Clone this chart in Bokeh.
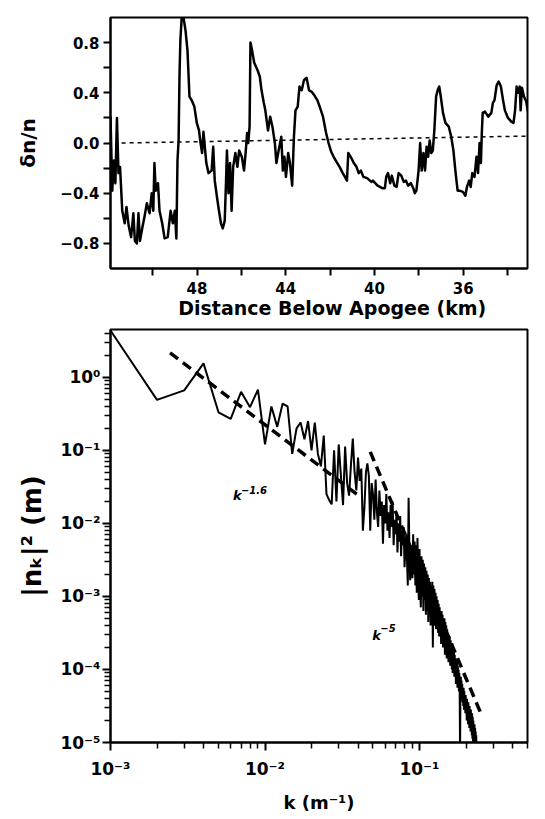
import numpy as np
from bokeh.plotting import figure
from bokeh.layouts import column
from bokeh.models import Range1d, FixedTicker, CustomJSTickFormatter
from bokeh.core.properties import value
from bokeh.embed import file_html
from bokeh.resources import INLINE

FONT = "DejaVu Sans"

# ---------------- upper panel: relative density fluctuation ----------------
dist_km = [
    51.90, 51.82, 51.75, 51.68, 51.61, 51.54, 51.47, 51.37, 51.26, 51.18,
    51.08, 50.97, 50.87, 50.80, 50.71, 50.64, 50.57, 50.47, 50.37, 50.26,
    50.14, 50.04, 49.97, 49.92, 49.86, 49.76, 49.69, 49.57, 49.46, 49.32,
    49.19, 49.09, 49.00, 48.93, 48.88, 48.83, 48.79, 48.75, 48.69, 48.61,
    48.52, 48.43, 48.34, 48.24, 48.12, 48.01, 47.91, 47.84, 47.77, 47.71,
    47.58, 47.48, 47.34, 47.27, 47.20, 47.10, 47.01, 46.92, 46.84, 46.75,
    46.70, 46.65, 46.58, 46.51, 46.44, 46.37, 46.27, 46.18, 46.10, 45.98,
    45.88, 45.80, 45.74, 45.69, 45.63, 45.59, 45.52, 45.42, 45.27, 45.17,
    45.09, 44.99, 44.92, 44.80, 44.70, 44.60, 44.49, 44.42, 44.32, 44.20,
    44.13, 44.06, 43.99, 43.89, 43.81, 43.71, 43.63, 43.56, 43.46, 43.38,
    43.28, 43.18, 43.06, 42.95, 42.84, 42.71, 42.57, 42.47, 42.32, 42.18,
    42.07, 41.95, 41.84, 41.71, 41.57, 41.43, 41.33, 41.24, 41.18, 41.07,
    40.93, 40.81, 40.71, 40.61, 40.50, 40.33, 40.14, 40.07, 39.86, 39.65,
    39.53, 39.47, 39.39, 39.29, 39.22, 39.10, 39.00, 38.91, 38.79, 38.68,
    38.58, 38.48, 38.36, 38.25, 38.18, 38.11, 38.01, 37.94, 37.87, 37.79,
    37.72, 37.65, 37.58, 37.51, 37.44, 37.37, 37.30, 37.22, 37.15, 37.08,
    37.01, 36.91, 36.80, 36.65, 36.54, 36.44, 36.34, 36.25, 36.16, 36.01,
    35.90, 35.83, 35.73, 35.66, 35.59, 35.49, 35.40, 35.33, 35.26, 35.20,
    35.16, 35.12, 35.02, 34.87, 34.73, 34.66, 34.59, 34.49, 34.40, 34.30,
    34.20, 34.12, 33.98, 33.83, 33.73, 33.66, 33.59, 33.52, 33.45, 33.41,
    33.35, 33.26, 33.16, 33.09, 33.02,
]
dn_over_n = [
    0.21, -0.38, -0.14, -0.32, 0.20, -0.24, -0.19, -0.54, -0.64, -0.51,
    -0.66, -0.75, -0.56, -0.78, -0.80, -0.56, -0.78, -0.68, -0.59, -0.48,
    -0.56, -0.40, -0.54, -0.16, -0.38, -0.32, -0.54, -0.64, -0.76, -0.75,
    -0.54, -0.64, -0.54, -0.76, -0.14, 0.02, 0.53, 0.82, 1.00, 1.00,
    0.90, 0.74, 0.37, 0.34, 0.29, 0.16, 0.10, 0.00, -0.08, 0.09,
    -0.16, -0.24, -0.22, -0.03, -0.30, -0.43, -0.54, -0.64, -0.68, -0.62,
    -0.35, -0.06, -0.40, -0.16, -0.54, -0.19, -0.08, -0.19, -0.06, -0.11,
    -0.22, -0.06, 0.08, 0.00, 0.13, 0.80, 0.74, 0.64, 0.58, 0.53,
    0.42, 0.32, 0.26, 0.10, 0.21, 0.13, 0.00, -0.16, -0.06, 0.05,
    -0.22, -0.11, -0.27, -0.08, -0.16, -0.34, 0.05, 0.26, 0.29, 0.45,
    0.42, 0.50, 0.52, 0.42, 0.41, 0.38, 0.34, 0.29, 0.21, 0.08,
    0.00, -0.07, -0.11, -0.15, -0.19, -0.24, -0.27, -0.30, -0.08, -0.11,
    -0.16, -0.19, -0.24, -0.22, -0.27, -0.28, -0.31, -0.30, -0.34, -0.36,
    -0.36, -0.27, -0.24, -0.32, -0.26, -0.34, -0.35, -0.24, -0.26, -0.31,
    -0.30, -0.34, -0.32, -0.36, -0.40, -0.38, -0.22, 0.00, -0.22, -0.08,
    -0.22, -0.03, -0.11, 0.02, -0.08, -0.06, 0.10, 0.37, 0.42, 0.45,
    0.37, 0.24, 0.16, 0.13, 0.05, -0.06, -0.24, -0.38, -0.38, -0.39,
    -0.42, -0.35, -0.30, -0.35, -0.24, -0.27, -0.11, -0.24, 0.00, -0.16,
    0.08, 0.24, 0.25, 0.21, 0.24, 0.32, 0.34, 0.46, 0.49, 0.45,
    0.34, 0.26, 0.20, 0.17, 0.16, 0.26, 0.45, 0.40, 0.45, 0.26,
    0.44, 0.37, 0.33, 0.26, 0.18,
]
# reference (mean) level, drawn dotted across the record
ref_dist = [51.4, 33.1]
ref_level = [0.0, 0.055]

# ---------------- lower panel: wavenumber power spectrum ----------------
dk = 1e-3  # spectral bin width (m^-1); bin n sits at k = n * dk
spec_log10 = [
    0.64, -0.31, -0.18, 0.19, -0.48, -0.57, -0.20, -0.41, -0.17, -0.92,
    -0.40, -0.68, -0.36, -0.40, -1.05, -0.70, -0.62, -0.85, -0.60, -1.00,
    -0.62, -1.05, -1.22, -0.80, -1.60, -1.68, -1.74, -1.00, -1.70, -0.92,
    -1.35, -1.75, -0.95, -1.45, -1.62, -1.20, -0.84, -1.30, -1.55, -1.10,
    -1.42, -1.25, -2.10, -1.78, -1.30, -1.18, -1.35, -2.10, -1.45, -1.60,
    -1.95, -1.40, -1.85, -2.05, -1.55, -1.90, -1.70, -2.28, -1.75, -2.00,
    -1.60, -2.10, -1.85, -2.20, -1.75, -2.05, -1.70, -2.30, -1.95, -2.15,
    -1.85, -2.40, -2.00, -2.25, -1.90, -2.45, -2.10, -2.30, -2.05, -2.60,
    -2.37, -2.15, -2.50, -2.85, -1.65, -2.35, -2.78, -2.55, -2.30, -2.75,
    -2.15, -2.70, -2.25, -2.85, -2.30, -2.95, -2.20, -2.75, -3.05, -2.35,
    -2.90, -3.15, -2.45, -3.00, -2.50, -3.20, -2.55, -3.05, -2.60, -3.25,
    -2.65, -3.20, -2.70, -3.35, -2.75, -3.25, -2.80, -3.40, -2.85, -3.30,
    -2.80, -3.70, -2.85, -3.35, -2.90, -3.40, -2.95, -3.45, -3.00, -3.40,
    -3.05, -3.50, -3.10, -3.55, -3.15, -3.50, -3.20, -3.65, -3.20, -3.60,
    -3.25, -3.70, -3.30, -3.65, -3.30, -3.80, -3.35, -3.75, -3.40, -3.85,
    -3.45, -3.80, -3.50, -3.90, -3.55, -3.85, -3.55, -3.95, -3.60, -3.95,
    -3.65, -4.00, -3.65, -4.05, -3.70, -4.00, -3.75, -4.10, -3.80, -4.10,
    -3.85, -4.20, -3.85, -4.15, -3.90, -4.25, -3.95, -4.20, -4.00, -4.30,
    -4.05, -4.30, -5.20, -4.35, -4.10, -4.35, -4.15, -4.40, -4.20, -4.45,
    -4.25, -4.50, -4.25, -4.55, -4.30, -4.55, -4.35, -4.60, -4.35, -4.60,
    -4.40, -4.70, -4.40, -4.65, -4.45, -4.75, -4.45, -4.70, -4.50, -4.80,
    -4.50, -4.80, -4.55, -4.85, -4.55, -4.85, -4.60, -4.90, -4.60, -4.95,
    -4.65, -5.00, -4.70, -5.00, -4.75, -5.05, -4.75, -5.10, -4.80, -5.15,
    -4.85, -5.20, -4.90, -5.25, -5.30,
]
# power-law fits: start point, end wavenumber and spectral index
fit_shallow = dict(k0=2.43e-3, p0=2.15, k1=0.04, index=-1.6)
fit_steep = dict(k0=0.048, p0=0.095, k1=0.254, index=-5.0)

k_vals = dk * np.arange(1, len(spec_log10) + 1)
power = 10.0 ** np.array(spec_log10)


def fit_segment(f):
    ks = [f["k0"], f["k1"]]
    ps = [f["p0"], f["p0"] * (f["k1"] / f["k0"]) ** f["index"]]
    return ks, ps


def style_axis(ax, tick_size, label_size):
    ax.axis_line_width = 2
    ax.axis_line_color = "black"
    ax.major_tick_line_width = 2
    ax.minor_tick_line_width = 1.5
    ax.major_tick_in = 0
    ax.minor_tick_in = 0
    ax.major_label_text_font = FONT
    ax.major_label_text_font_style = "bold"
    ax.major_label_text_font_size = tick_size
    ax.major_label_text_color = "black"
    ax.axis_label_text_font = FONT
    ax.axis_label_text_font_style = "bold"
    ax.axis_label_text_font_size = label_size
    ax.axis_label_text_color = "black"


# ---- upper figure ----
top = figure(
    width=545, height=326,
    x_range=Range1d(51.9, 33.1), y_range=Range1d(-1.0, 1.0),
    output_backend="svg", toolbar_location=None,
    min_border_left=103, min_border_right=2,
    min_border_top=17, min_border_bottom=58,
)
top.grid.visible = False
top.outline_line_color = "black"
top.outline_line_width = 2

top.line(dist_km, dn_over_n, line_color="black", line_width=2.5, line_join="round")
top.line(ref_dist, ref_level, line_color="black", line_width=1.5, line_dash="4 4")

xa = top.xaxis[0]
style_axis(xa, "15px", "19px")
xa.ticker = FixedTicker(ticks=[50, 48, 46, 44, 42, 40, 38, 36, 34], minor_ticks=[])
xa.formatter = CustomJSTickFormatter(
    code="const t = Math.round(tick); return (t % 4 === 0) ? String(t) : '';")
xa.major_tick_out = 7
xa.major_label_standoff = 6
xa.axis_label = "\u00a0\u00a0\u00a0\u00a0Distance Below Apogee (km)"
xa.axis_label_standoff = 0

ya = top.yaxis[0]
style_axis(ya, "15px", "20px")
ya.ticker = FixedTicker(ticks=[-0.8, -0.6, -0.4, -0.2, 0.0, 0.2, 0.4, 0.6, 0.8], minor_ticks=[])
ya.formatter = CustomJSTickFormatter(code="""
    const r = Math.round(tick * 10);
    if (Math.abs(r) % 4 !== 0) return '';
    return (r < 0 ? '\\u2212' : '') + Math.abs(tick).toFixed(1);
""")
ya.major_tick_out = 7
ya.major_label_standoff = 4
ya.axis_label = "δn/n"
ya.axis_label_standoff = 17

# ---- lower figure ----
bot = figure(
    width=545, height=493,
    x_axis_type="log", y_axis_type="log",
    x_range=Range1d(1e-3, 0.5), y_range=Range1d(1e-5, 4.5),
    output_backend="svg", toolbar_location=None,
    min_border_left=110, min_border_right=18,
    min_border_top=3, min_border_bottom=77,
)
bot.grid.visible = False
bot.outline_line_color = "black"
bot.outline_line_width = 2

bot.line(k_vals, power, line_color="black", line_width=2)
for f in (fit_shallow, fit_steep):
    ks, ps = fit_segment(f)
    bot.line(ks, ps, line_color="black", line_width=3.5, line_dash="10 6")

label_kw = dict(text_font=value(FONT), text_font_style="bold italic",
                text_color="black", text_align="left", text_baseline="middle")
bot.text(x=[6.2e-3], y=[10 ** -1.62], text=["k"], text_font_size="13px", **label_kw)
bot.text(x=[6.2e-3], y=[10 ** -1.62], text=["\u22121.6"], text_font_size="10px",
         x_offset=8, y_offset=-6, **label_kw)
bot.text(x=[0.0495], y=[10 ** -3.53], text=["k"], text_font_size="13px", **label_kw)
bot.text(x=[0.0495], y=[10 ** -3.53], text=["\u22125"], text_font_size="10px",
         x_offset=8, y_offset=-7, **label_kw)

sup_code = """
    const sup = {'-': '\\u207b', '0': '\\u2070', '1': '\\u00b9', '2': '\\u00b2', '3': '\\u00b3',
                 '4': '\\u2074', '5': '\\u2075', '6': '\\u2076', '7': '\\u2077', '8': '\\u2078', '9': '\\u2079'};
    const e = Math.round(Math.log10(tick));
    return '10' + String(e).split('').map(c => sup[c]).join('');
"""

x_dec = [1e-3, 1e-2, 1e-1]
x_minor = [m * d for d in [1e-3, 1e-2, 1e-1] for m in range(2, 10) if m * d <= 0.5]
bx = bot.xaxis[0]
style_axis(bx, "17px", "18px")
bx.ticker = FixedTicker(ticks=x_dec, minor_ticks=x_minor)
bx.formatter = CustomJSTickFormatter(code=sup_code)
bx.major_tick_out = 8
bx.minor_tick_out = 6
bx.major_label_standoff = 8
bx.axis_label = "k (m\u207b\u00b9)"
bx.axis_label_standoff = 10

y_dec = [1e-5, 1e-4, 1e-3, 1e-2, 1e-1, 1e0]
y_minor = [m * d for d in [1e-5, 1e-4, 1e-3, 1e-2, 1e-1, 1e0] for m in range(2, 10) if m * d <= 4.5]
by = bot.yaxis[0]
style_axis(by, "17px", "26px")
by.ticker = FixedTicker(ticks=y_dec, minor_ticks=y_minor)
by.formatter = CustomJSTickFormatter(code=sup_code)
by.major_tick_out = 8
by.minor_tick_out = 6
by.major_label_standoff = 2
by.axis_label = "|n\u2096|\u00b2 (m)"
by.axis_label_standoff = 10

layout = column(top, bot, spacing=0)
open("out.html", "w").write(file_html(layout, INLINE))
